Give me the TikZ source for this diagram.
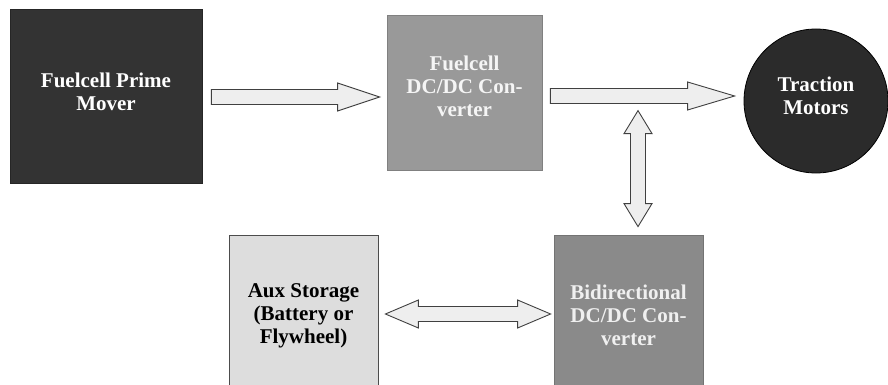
\documentclass[tikz,border=0pt]{standalone}
\usepackage{fontspec}
\setmainfont{Liberation Serif}
\newfontfamily\blockfont{Liberation Serif}[BoldFont={Liberation Serif Bold}]
\usetikzlibrary{calc}

\definecolor{primegray}{HTML}{333333}
\definecolor{convgray}{HTML}{999999}
\definecolor{motorgray}{HTML}{2B2B2B}
\definecolor{auxgray}{HTML}{DDDDDD}
\definecolor{bigray}{HTML}{8A8A8A}
\definecolor{arrowfill}{HTML}{EEEEEE}

\newcommand{\shaftw}{7.5pt}
\newcommand{\headw}{14pt}

% single block arrow pointing right: tail, tip, head length
\newcommand{\rblockarrow}[3]{%
  \draw[blockarrow] let \p1=#1, \p2=#2 in
    (\x1,\y1+\shaftw) -- (\x2-#3,\y1+\shaftw) -- (\x2-#3,\y1+\headw)
    -- (\x2,\y1) -- (\x2-#3,\y1-\headw) -- (\x2-#3,\y1-\shaftw)
    -- (\x1,\y1-\shaftw) -- cycle;}
% double block arrow, horizontal: left tip, right tip, head length
\newcommand{\hblockarrow}[3]{%
  \draw[blockarrow] let \p1=#1, \p2=#2 in
    (\x1,\y1) -- (\x1+#3,\y1+\headw) -- (\x1+#3,\y1+\shaftw)
    -- (\x2-#3,\y1+\shaftw) -- (\x2-#3,\y1+\headw) -- (\x2,\y1)
    -- (\x2-#3,\y1-\headw) -- (\x2-#3,\y1-\shaftw)
    -- (\x1+#3,\y1-\shaftw) -- (\x1+#3,\y1-\headw) -- cycle;}
% double block arrow, vertical: top tip, bottom tip, head length
\newcommand{\vblockarrow}[3]{%
  \draw[blockarrow] let \p1=#1, \p2=#2 in
    (\x1,\y1) -- (\x1+\headw,\y1-#3) -- (\x1+\shaftw,\y1-#3)
    -- (\x1+\shaftw,\y2+#3) -- (\x1+\headw,\y2+#3) -- (\x1,\y2)
    -- (\x1-\headw,\y2+#3) -- (\x1-\shaftw,\y2+#3)
    -- (\x1-\shaftw,\y1-#3) -- (\x1-\headw,\y1-#3) -- cycle;}

\tikzset{
  unit/.style={rectangle, line width=0.8pt, inner sep=0pt},
  label text/.style={font=\blockfont\bfseries\fontsize{21}{23}\selectfont, align=center, inner sep=0pt},
  blockarrow/.style={draw=black!75, fill=arrowfill, line width=0.9pt, line join=miter},
}

\begin{document}
\begin{tikzpicture}[x=1pt,y=-1pt]
  \clip (0,0) rectangle (888,385);
  \fill[white] (0,0) rectangle (888,385);

  % blocks
  \node[unit, draw=black!85, fill=primegray, minimum width=192pt, minimum height=174pt] (prime) at (106,96) {};
  \node[unit, draw=black!50, fill=convgray, minimum width=155pt, minimum height=155pt] (fcconv) at (464.5,92.5) {};
  \node[circle, draw=black, fill=motorgray, line width=0.8pt, minimum size=144pt, inner sep=0pt] (motors) at (816,101) {};
  \node[unit, draw=black!70, fill=auxgray, minimum width=149pt, minimum height=170pt] (aux) at (303.5,320) {};
  \node[unit, draw=black!55, fill=bigray, minimum width=149pt, minimum height=170pt] (biconv) at (628.5,320) {};

  % texts
  \node[label text, text=white] (primetext) at ($(prime.center)+(0,-4)$) {Fuelcell Prime\\Mover};
  \node[label text, text=black!4] (fcconvtext) at ($(fcconv.center)+(0,-6)$) {Fuelcell\\DC/DC Con-\\verter};
  \node[label text, text=white] (motorstext) at ($(motors.center)+(0,-5)$) {Traction\\Motors};
  \node[label text, text=black] (auxtext) at ($(aux.center)+(0,-4)$) {Aux Storage\\(Battery or\\Flywheel)};
  \node[label text, text=black!6] (biconvtext) at ($(biconv.center)+(0,-5)$) {Bidirectional\\DC/DC Con-\\verter};

  % block arrows
  \rblockarrow{($(prime.east)+(9,1)$)}{($(fcconv.west)+(-7,0)$)}{42pt}
  \rblockarrow{($(fcconv.east)+(8,3.5)$)}{($(motors.west)+(-9,0)$)}{47pt}
  \vblockarrow{($(biconv.north)+(9.5,-124)$)}{($(biconv.north)+(9.5,-8)$)}{23pt}
  \hblockarrow{($(aux.east)+(7,-6)$)}{($(biconv.west)+(-3,-6)$)}{33pt}
\end{tikzpicture}
\end{document}
